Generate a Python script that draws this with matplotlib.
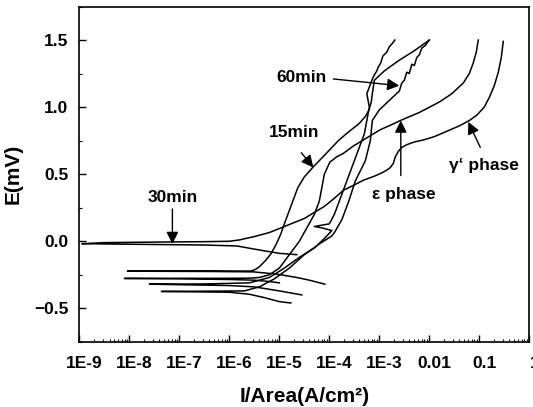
import numpy as np
import matplotlib
matplotlib.use("Agg")
import matplotlib.pyplot as plt
import matplotlib.transforms as mtransforms
from matplotlib.ticker import LogLocator, MultipleLocator, NullFormatter

plt.rcParams['font.family'] = ['Liberation Sans', 'DejaVu Sans']

# ---- data: log10(current density, A/cm2) and potential E ----
# curve with Ecorr near 0 (long line ending at high current, "gamma' phase" end)
g_logI = [-4.65, -5.0, -5.4, -5.85, -6.5, -8.0, -8.95, -8.5, -7.5, -6.5, -6.0, -5.8,
          -5.5, -5.2, -4.9, -4.5, -4.1, -3.9, -3.72, -3.5, -3.32, -3.1, -2.95, -2.85,
          -2.78, -2.72, -2.68, -2.62, -2.55, -2.45, -2.3, -2.12, -1.9, -1.65, -1.4,
          -1.2, -1.05, -0.9, -0.79, -0.7, -0.62, -0.56, -0.52]
g_E = [-0.10, -0.09, -0.065, -0.035, -0.028, -0.022, -0.018, -0.01, -0.006, -0.003,
       0.0, 0.01, 0.035, 0.065, 0.11, 0.17, 0.26, 0.32, 0.38, 0.42, 0.455, 0.485,
       0.51, 0.53, 0.55, 0.58, 0.63, 0.67, 0.70, 0.72, 0.74, 0.755, 0.78, 0.82,
       0.86, 0.90, 0.94, 1.00, 1.08, 1.16, 1.26, 1.37, 1.49]

# 15 min
m15_logI = [-4.09, -4.4, -4.65, -5.05, -5.52, -6.5, -8.04, -7.0, -6.0, -5.57, -5.48,
            -5.4, -5.28, -5.17, -5.06, -4.97, -4.9, -4.83, -4.70, -4.63, -4.5, -4.32,
            -4.1, -3.82, -3.6, -3.41, -3.28, -3.21, -3.16, -3.14, -3.1, -2.9, -2.6,
            -2.3, -2.0]
m15_E = [-0.32, -0.29, -0.27, -0.245, -0.228, -0.225, -0.223, -0.222, -0.222,
         -0.222, -0.21, -0.19, -0.145, -0.095, -0.02, 0.055, 0.13, 0.2, 0.33, 0.40,
         0.48, 0.555, 0.64, 0.75, 0.82, 0.875, 0.93, 0.975, 1.04, 1.1, 1.2, 1.27,
         1.35, 1.42, 1.5]

# epsilon phase
eps_logI = [-5.0, -5.2, -5.5, -6.0, -7.0, -8.1, -7.0, -6.0, -5.6, -5.4, -5.2, -5.0,
            -4.8, -4.6, -4.45, -4.3, -4.2, -4.15, -4.1, -3.99, -3.85, -3.72, -3.52,
            -3.32, -2.99, -2.75, -2.55, -2.2, -1.79, -1.55, -1.32, -1.2, -1.12,
            -1.06, -1.02]
eps_E = [-0.31, -0.30, -0.29, -0.285, -0.28, -0.277, -0.276, -0.276, -0.275, -0.27,
         -0.25, -0.20, -0.10, 0.0, 0.1, 0.2, 0.3, 0.4, 0.5, 0.59, 0.63, 0.655,
         0.71, 0.755, 0.83, 0.87, 0.905, 0.96, 1.04, 1.1, 1.18, 1.25, 1.33, 1.41,
         1.5]

# 60 min
m60_logI = [-4.55, -5.0, -5.5, -6.0, -7.6, -6.5, -5.6, -5.2, -4.9, -4.6, -4.3, -4.1,
            -3.95, -4.15, -4.3, -4.0, -3.9, -3.8, -3.65, -3.5, -3.4, -3.3, -3.25,
            -3.2, -3.25, -3.15, -3.1, -3.05, -3.02, -2.97, -2.93, -2.85, -2.8,
            -2.75, -2.69]
m60_E = [-0.40, -0.37, -0.34, -0.33, -0.32, -0.318, -0.31, -0.27, -0.20, -0.12,
         -0.05, 0.02, 0.08, 0.10, 0.11, 0.13, 0.2, 0.3, 0.45, 0.6, 0.7, 0.8, 0.9,
         1.0, 1.1, 1.2, 1.24, 1.27, 1.3, 1.33, 1.38, 1.41, 1.45, 1.47, 1.5]

# fifth curve (right jagged top end)
c5_logI = [-4.77, -5.0, -5.3, -5.6, -6.0, -7.36, -6.5, -5.7, -5.4, -5.1, -4.8, -4.5,
           -4.2, -3.95, -3.89, -3.75, -3.61, -3.48, -3.28, -3.18, -3.14, -3.0, -2.8,
           -2.6, -2.55, -2.5, -2.45, -2.4, -2.35, -2.3, -2.25, -2.2, -2.15, -2.08, -2.0]
c5_E = [-0.46, -0.45, -0.42, -0.395, -0.38, -0.374, -0.372, -0.37, -0.34, -0.28,
        -0.20, -0.10, -0.02, 0.04, 0.07, 0.16, 0.30, 0.45, 0.60, 0.75, 0.90, 0.98,
        1.05, 1.12, 1.18, 1.2, 1.26, 1.25, 1.32, 1.31, 1.37, 1.39, 1.44, 1.46, 1.5]

xtick_vals = [-9, -8, -7, -6, -5, -4, -3, -2, -1, 0]
xtick_labels = ["1E-9", "1E-8", "1E-7", "1E-6", "1E-5", "1E-4", "1E-3", "0.01", "0.1", "1"]
ytick_vals = [-0.5, 0.0, 0.5, 1.0, 1.5]
ytick_labels = ["\u22120.5", "0.0", "0.5", "1.0", "1.5"]

fig = plt.figure(figsize=(5.33, 4.07), dpi=100)
ax = fig.add_axes([0.149, 0.160, 0.844, 0.824])

for li, ee in [(g_logI, g_E), (m15_logI, m15_E), (eps_logI, eps_E),
               (m60_logI, m60_E), (c5_logI, c5_E)]:
    ax.plot(10.0 ** np.array(li), ee, color='black', lw=1.1)

ax.set_xscale('log')
ax.set_xlim(1e-9, 1)
ax.set_ylim(-0.75, 1.75)
ax.set_xticks([10.0 ** v for v in xtick_vals])
ax.set_xticklabels(xtick_labels, fontweight='bold')
ax.xaxis.set_minor_locator(LogLocator(base=10, subs=np.arange(2, 10), numticks=100))
ax.xaxis.set_minor_formatter(NullFormatter())
ax.set_yticks(ytick_vals)
ax.set_yticklabels(ytick_labels, fontweight='bold')
ax.yaxis.set_minor_locator(MultipleLocator(0.25))
ax.tick_params(which='major', direction='in', length=5, width=1.0,
               labelsize=12.5, top=False, right=False)
ax.tick_params(axis='x', which='major', pad=10)
ax.tick_params(axis='y', which='major', pad=8)
ax.tick_params(which='minor', direction='in', length=2.5, width=0.8,
               top=False, right=False)
shift = mtransforms.ScaledTranslation(5 / 100, 0, fig.dpi_scale_trans)
for lab in ax.get_xticklabels():
    lab.set_transform(lab.get_transform() + shift)
for s in ax.spines.values():
    s.set_linewidth(1.2)

ax.set_xlabel("I/Area(A/cm\u00b2)", fontsize=15, fontweight='bold', labelpad=12)
ax.set_ylabel("E(mV)", fontsize=15, fontweight='bold', labelpad=8)

ap = dict(arrowstyle='-|>', mutation_scale=18, lw=1.0, color='black',
          shrinkA=0, shrinkB=0)
tk = dict(fontsize=12.5, fontweight='bold', ha='center', va='center')
ax.annotate("", xy=(10 ** -2.60, 1.16), xytext=(10 ** -3.92, 1.21), arrowprops=ap)
ax.text(10 ** -4.56, 1.22, "60min", **tk)
ax.annotate("", xy=(10 ** -4.32, 0.55), xytext=(10 ** -4.56, 0.66), arrowprops=ap)
ax.text(10 ** -4.70, 0.81, "15min", **tk)
ax.annotate("", xy=(10 ** -7.14, -0.02), xytext=(10 ** -7.14, 0.24), arrowprops=ap)
ax.text(10 ** -7.13, 0.33, "30min", **tk)
ax.annotate("", xy=(10 ** -2.57, 0.90), xytext=(10 ** -2.57, 0.49), arrowprops=ap)
ax.text(10 ** -2.50, 0.35, "\u03b5 phase", **tk)
ax.annotate("", xy=(10 ** -1.22, 0.89), xytext=(10 ** -0.98, 0.70), arrowprops=ap)
ax.text(10 ** -0.91, 0.565, "\u03b3\u2018 phase", **tk)

fig.savefig("out.png", dpi=100)
